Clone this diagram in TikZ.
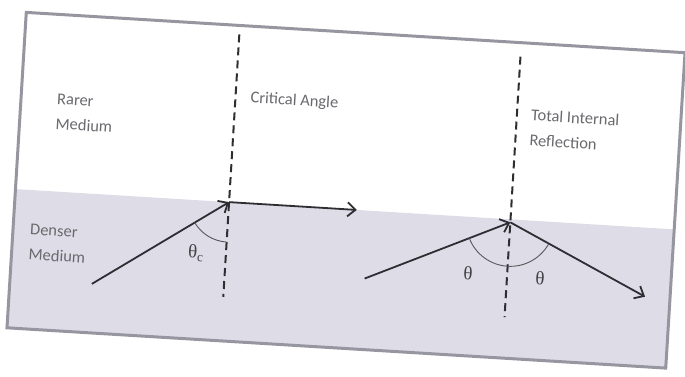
\documentclass[tikz,border=0pt]{standalone}
\usepackage{fontspec}
\setmainfont{Carlito}
\newfontfamily\greekserif{Liberation Serif}
\usetikzlibrary{arrows.meta}
\definecolor{densebg}{RGB}{222,221,231}
\definecolor{framegray}{RGB}{150,150,160}
\definecolor{inkgray}{RGB}{45,45,50}
\definecolor{textgray}{RGB}{105,105,110}
\tikzset{
    ray/.style={draw=inkgray, line width=1.8pt, -{Straight Barb[length=8pt,width=14pt]}},
    normalline/.style={draw=inkgray, line width=2pt, dash pattern=on 8pt off 5pt},
    anglearc/.style={draw=inkgray!80, line width=0.9pt},
    mediumlabel/.style={text=textgray, align=left, anchor=west, inner sep=0pt, font=\fontsize{16.5}{25}\selectfont},
    anglelabel/.style={text=inkgray!90, inner sep=0pt, font=\greekserif\fontsize{19}{20}\selectfont}
}

\begin{document}
\begin{tikzpicture}[x=1pt, y=1pt]
    \useasboundingbox (0,0) rectangle (685,377);
    \begin{scope}[shift={(346,186.75)}, rotate=-3.5, transform shape]
        % denser medium below the boundary
        \fill[densebg] (-330,-158) rectangle (330,-19);

        \coordinate (crit) at (-116,-19);
        \coordinate (csrc) at (-248,-109);
        \coordinate (cout) at (12,-19);
        \coordinate (cnormtop) at (-116,149);
        \coordinate (cnormbot) at (-116,-114);
        \coordinate (tir) at (166,-22);
        \coordinate (tsrc) at (24,-87);
        \coordinate (tout) at (305,-88);
        \coordinate (tnormtop) at (166,144);
        \coordinate (tnormbot) at (166,-117);

        \node[mediumlabel] (rarer) at (-294,61) {Rarer\\Medium};
        \node[mediumlabel] (denser) at (-313,-71) {Denser\\Medium};
        \node[mediumlabel] (critlabel) at (-101,86) {Critical Angle};
        \node[mediumlabel] (tirlabel) at (180,74) {Total Internal\\Reflection};

        \draw[normalline] (cnormtop) -- (cnormbot);
        \draw[normalline] (tnormtop) -- (tnormbot);

        \draw[ray] (csrc) -- (crit);
        \draw[ray] (crit) -- (cout);
        \draw[ray] (tsrc) -- (tir);
        \draw[ray] (tir) -- (tout);

        \draw[anglearc] (crit) ++(214.3:40) arc[start angle=214.3, end angle=270, radius=40];
        \draw[anglearc] (tir) ++(204.6:44) arc[start angle=204.6, end angle=270, radius=44];
        \draw[anglearc] (tir) ++(270:44) arc[start angle=270, end angle=334.3, radius=44];

        \node[anglelabel] (thetac) at (-146,-72) {θ\textsubscript{c}};
        \node[anglelabel] (thetain) at (127,-75) {θ};
        \node[anglelabel] (thetaout) at (199,-76) {θ};

        \draw[framegray, line width=3pt] (-330,-158) rectangle (330,158);
    \end{scope}
\end{tikzpicture}
\end{document}
